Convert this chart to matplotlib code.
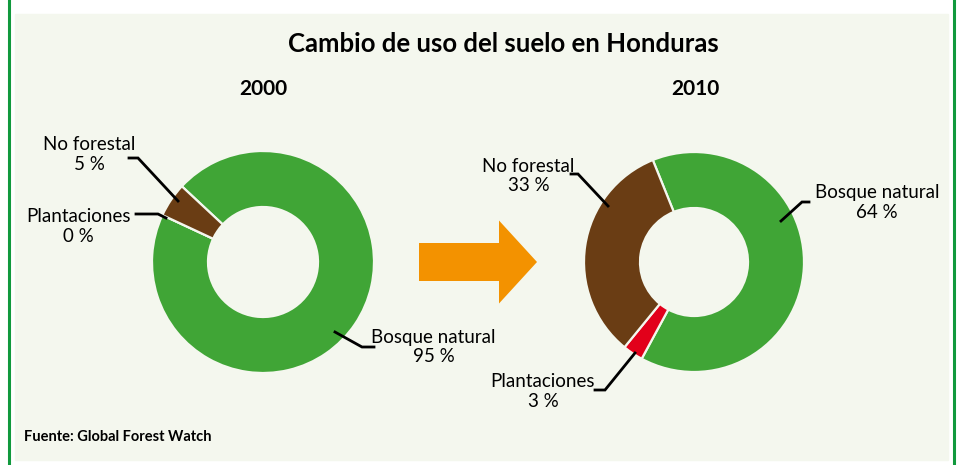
import matplotlib.pyplot as plt
from matplotlib.patches import Rectangle, FancyArrow

plt.rcParams['font.family'] = ['Lato', 'DejaVu Sans']

categorias = ['Bosque natural', 'Plantaciones', 'No forestal']
valores_2000 = [95, 0, 5]
valores_2010 = [64, 3, 33]
colores = ['#40a536', '#e2001a', '#6a3d14']

W, H = 957, 465
fondo = '#f4f7ee'
verde_borde = '#11993d'


def py(y):
    # coordenadas en pixeles desde arriba
    return H - y


fig = plt.figure(figsize=(9.57, 4.65), dpi=100)
ax = fig.add_axes([0, 0, 1, 1])

ax.add_patch(Rectangle((15, py(460)), 933, 446, color=fondo, zorder=0))
ax.plot([9, 9], [0, H], color=verde_borde, lw=2.2, zorder=1)
ax.plot([954, 954], [0, H], color=verde_borde, lw=2.2, zorder=1)

anillo = dict(width=56, edgecolor=fondo, linewidth=1.6)
ax.pie(valores_2000, colors=colores, startangle=137, counterclock=False,
       radius=111, center=(263, py(262)), wedgeprops=anillo)
ax.pie(valores_2010, colors=colores, startangle=112, counterclock=False,
       radius=110, center=(694, py(262)), wedgeprops=anillo)

# flecha entre los dos años
ax.add_patch(FancyArrow(419, py(262), 118, 0, width=38, head_width=83,
                        head_length=38, length_includes_head=True,
                        color='#f39200', lw=0))

ax.text(503, py(44), 'Cambio de uso del suelo en Honduras', fontsize=18.5,
        fontweight='bold', ha='center', va='center')
ax.text(263, py(89), '2000', fontsize=15, fontweight='bold', ha='center', va='center')
ax.text(695, py(89), '2010', fontsize=15, fontweight='bold', ha='center', va='center')
ax.text(24, py(437), 'Fuente: Global Forest Watch', fontsize=10.5,
        fontweight='bold', ha='left', va='center')

etiquetas = [
    (89.5, 154.5, 'No forestal\n%d %%' % valores_2000[2], [(129, 158), (138, 158), (178, 201)]),
    (78.5, 226.5, 'Plantaciones\n%d %%' % valores_2000[1], [(136, 214), (158, 214), (166, 218)]),
    (433.5, 347, 'Bosque natural\n%d %%' % valores_2000[0], [(374, 347), (362, 347), (335, 332)]),
    (528.5, 176, 'No forestal\n%d %%' % valores_2010[2], [(571, 174), (578, 174), (608, 206)]),
    (877, 202.5, 'Bosque natural\n%d %%' % valores_2010[0], [(809, 202), (802, 202), (781, 221)]),
    (543, 391.5, 'Plantaciones\n%d %%' % valores_2010[1], [(595, 390), (605, 390), (635, 353)]),
]
for x, y, txt, linea in etiquetas:
    ax.text(x, py(y), txt, fontsize=13.5, ha='center', va='center',
            multialignment='center', linespacing=1.2)
    ax.plot([p[0] for p in linea], [py(p[1]) for p in linea], color='k',
            lw=2, solid_joinstyle='miter', zorder=5)

ax.set_xlim(0, W)
ax.set_ylim(0, H)
ax.set_aspect('equal')
ax.axis('off')

fig.savefig('out.png', dpi=100, facecolor='white')
